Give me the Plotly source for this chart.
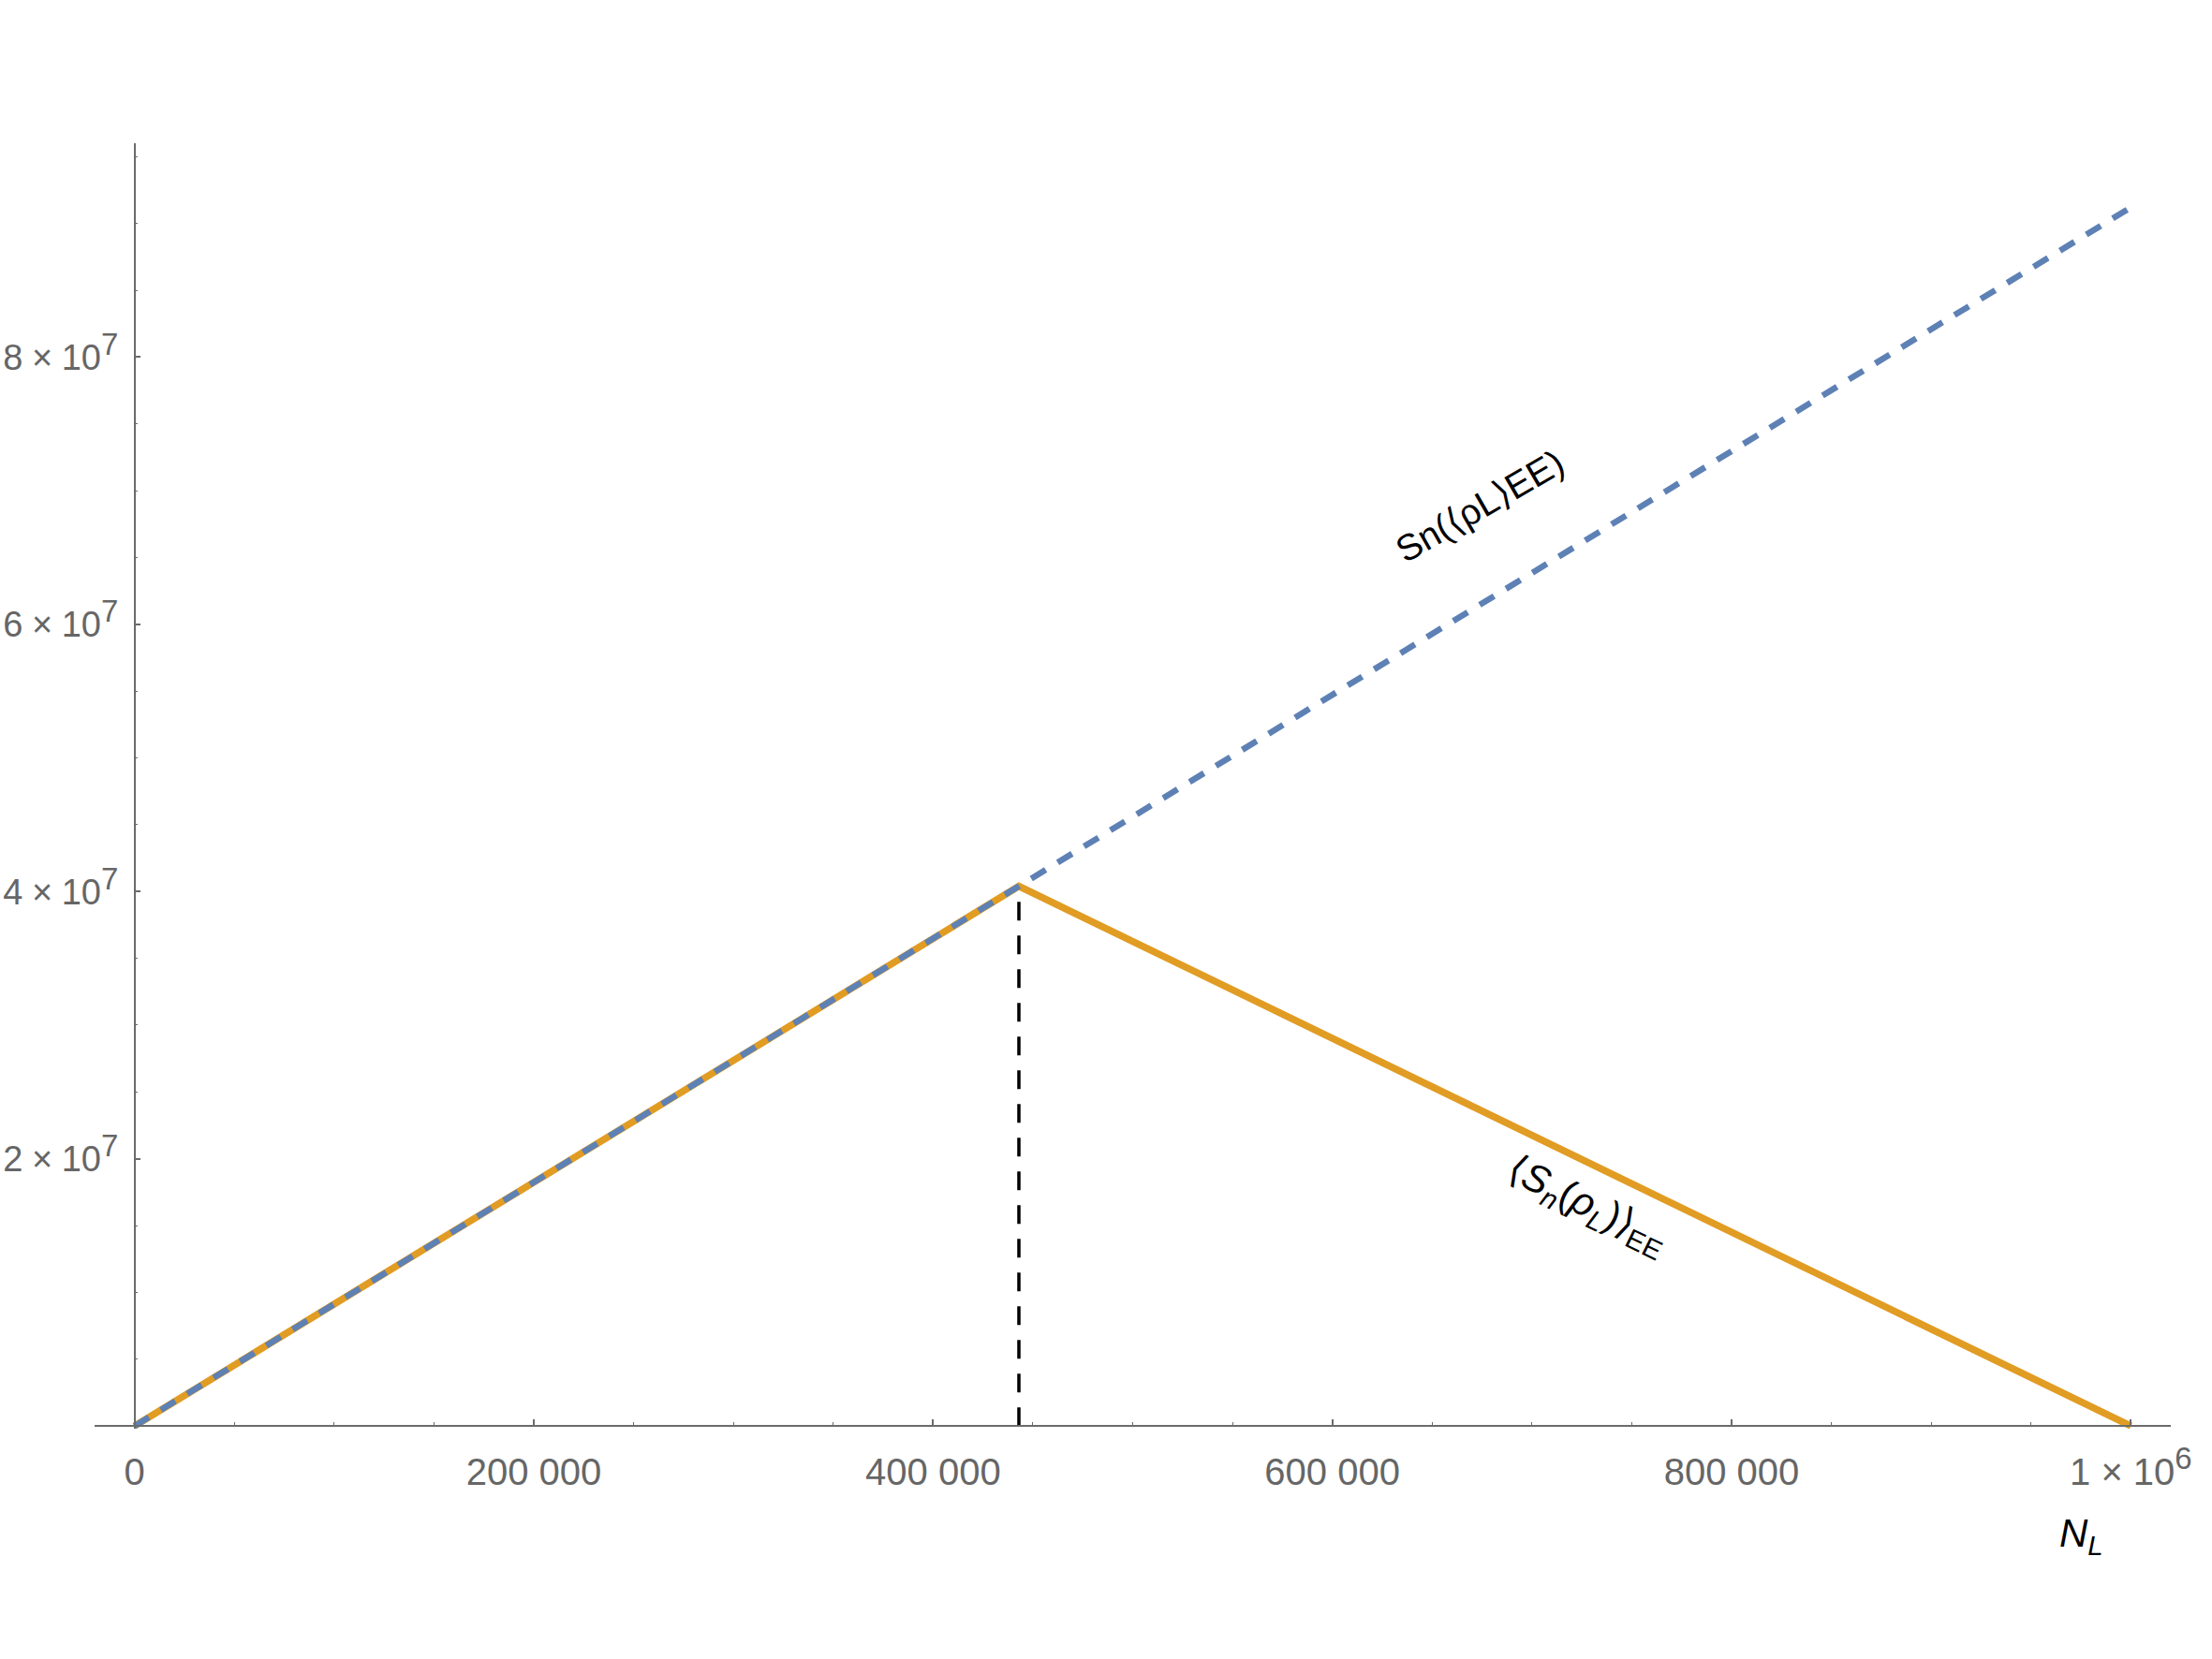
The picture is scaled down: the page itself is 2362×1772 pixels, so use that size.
import plotly.graph_objects as go

# Data
N_L_ee = [0, 1000000]
S_ee = [0, 9.12e7]                 # S_n(<rho_L>_EE), dashed blue
N_L_avg = [0, 443000, 1000000]
S_avg = [0, 4.04e7, 0]             # <S_n(rho_L)>_EE, solid orange
N_page = [443000, 443000]
S_page = [0, 3.95e7]               # vertical dashed marker

SUP = '<sup><span style="font-size:33px">{}</span></sup>'
x_ticks = [0, 200000, 400000, 600000, 800000, 1000000]
x_ticktext = ["0", "200 000", "400 000", "600 000", "800 000", "1 × 10" + SUP.format(6)]
y_ticks = [2e7, 4e7, 6e7, 8e7]
y_ticktext = ["2\u2005×\u200510" + SUP.format(7), "4\u2005×\u200510" + SUP.format(7),
              "6\u2005×\u200510" + SUP.format(7), "8\u2005×\u200510" + SUP.format(7)]

XMIN, XMAX = -20000, 1020000
YMIN, YMAX = -0.2e6, 9.6e7

BLUE = "#5E81B5"
ORANGE = "#E19C24"
AX = "#6b6b6b"
FONT = "Liberation Sans, Arial, sans-serif"

fig = go.Figure()
fig.add_trace(go.Scatter(x=N_page, y=S_page, mode="lines",
                         line=dict(color="black", width=3.5, dash="20px,16px"),
                         hoverinfo="skip"))
fig.add_trace(go.Scatter(x=N_L_avg, y=S_avg, mode="lines",
                         line=dict(color=ORANGE, width=7.5)))
fig.add_trace(go.Scatter(x=N_L_ee, y=S_ee, mode="lines",
                         line=dict(color=BLUE, width=6.5, dash="18px,15px")))

fig.add_annotation(x=1580, y=540, xref="paper", yref="paper", text="Sn(⟨ρL⟩EE)",
                   showarrow=False, textangle=-30,
                   font=dict(family=FONT, size=39, color="black"))
fig.add_annotation(x=1695, y=1288, xref="paper", yref="paper",
                   text="⟨<i>S</i><sub><i>n</i></sub>(<i>ρ</i><sub><i>L</i></sub>)⟩<sub>EE</sub>",
                   showarrow=False, textangle=26,
                   font=dict(family=FONT, size=42, color="black"))
fig.add_annotation(x=2222, y=1640, xref="paper", yref="paper",
                   text="<i>N</i><sub><i>L</i></sub>",
                   showarrow=False,
                   font=dict(family=FONT, size=42, color="black"))

# convert pixel-placed annotations into paper fractions
W, H = 2362, 1772
L, R, T, B = 101, 44, 153, 246
pw, ph = W - L - R, H - T - B
for a in fig.layout.annotations:
    a.x = (a.x - L) / pw
    a.y = 1 - (a.y - T) / ph
    a.xanchor = "center"
    a.yanchor = "middle"

fig.update_layout(
    width=W, height=H,
    margin=dict(l=L, r=R, t=T, b=B, autoexpand=False),
    plot_bgcolor="white", paper_bgcolor="white",
    showlegend=False,
    xaxis=dict(range=[XMIN, XMAX], anchor="free", automargin=False,
               position=(0 - YMIN) / (YMAX - YMIN),
               showgrid=False, zeroline=False, showline=True,
               linecolor=AX, linewidth=1.5,
               tickmode="array", tickvals=x_ticks, ticktext=x_ticktext,
               ticks="inside", ticklen=6, tickcolor=AX, tickwidth=1.5,
               minor=dict(dtick=50000, tick0=0, ticks="inside", ticklen=3,
                          tickcolor=AX, tickwidth=1.2, showgrid=False),
               tickfont=dict(family=FONT, size=40, color="#666666"),
               ticklabelstandoff=14),
    yaxis=dict(range=[YMIN, YMAX], anchor="free", automargin=False,
               position=(0 - XMIN) / (XMAX - XMIN),
               showgrid=False, zeroline=False, showline=True,
               linecolor=AX, linewidth=1.5,
               tickmode="array", tickvals=y_ticks, ticktext=y_ticktext,
               ticks="inside", ticklen=6, tickcolor=AX, tickwidth=1.5,
               minor=dict(dtick=5e6, tick0=0, ticks="inside", ticklen=3,
                          tickcolor=AX, tickwidth=1.2, showgrid=False),
               tickfont=dict(family=FONT, size=38, color="#666666"),
               ticklabelstandoff=9),
)

fig.write_html("out.html", config={"displayModeBar": False},
               post_script="document.body.style.margin='0px';document.body.style.overflow='hidden';")
